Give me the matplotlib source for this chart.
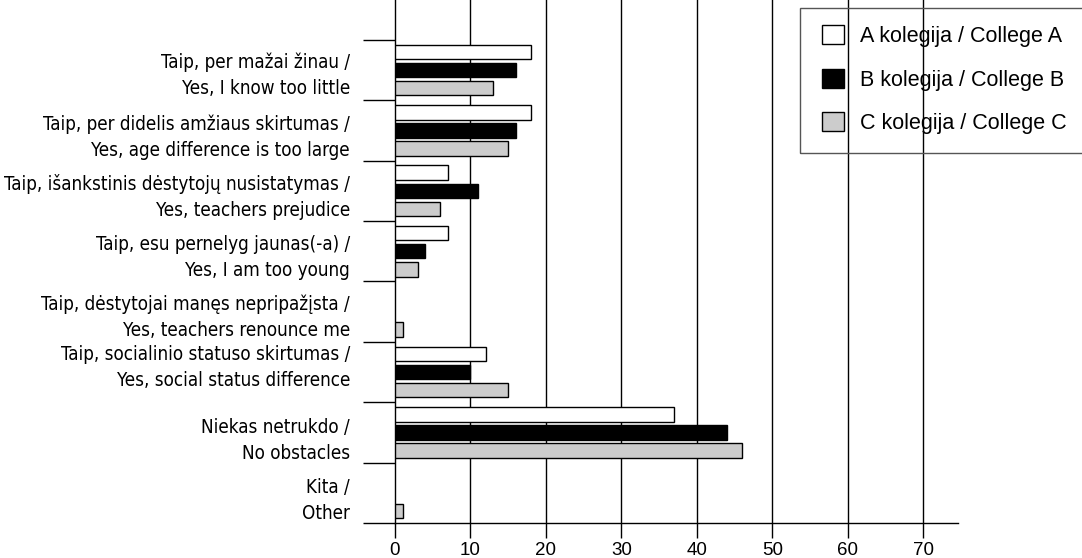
import numpy as np
import matplotlib
matplotlib.use("Agg")
import matplotlib.pyplot as plt
import matplotlib.patches as mpatches
import matplotlib.transforms as mtransforms
from matplotlib import font_manager as fm

# ---------------------------------------------------------------------
# Data
# ---------------------------------------------------------------------
categories = [
    "Taip, per mažai žinau /\nYes, I know too little",
    "Taip, per didelis amžiaus skirtumas /\nYes, age difference is too large",
    "Taip, išankstinis dėstytojų nusistatymas /\nYes, teachers prejudice",
    "Taip, esu pernelyg jaunas(-a) /\nYes, I am too young",
    "Taip, dėstytojai manęs nepripažįsta /\nYes, teachers renounce me",
    "Taip, socialinio statuso skirtumas /\nYes, social status difference",
    "Niekas netrukdo /\nNo obstacles",
    "Kita /\nOther",
]
college_a = [18, 18, 7, 7, 0, 12, 37, 0]
college_b = [16, 16, 11, 4, 0, 10, 44, 0]
college_c = [13, 15, 6, 3, 1, 15, 46, 1]
series_labels = ["A kolegija / College A", "B kolegija / College B", "C kolegija / College C"]
x_ticks = [0, 10, 20, 30, 40, 50, 60, 70]

colors = ["white", "black", "#cccccc"]
main_font = ["Liberation Sans", "DejaVu Sans"]

# ---------------------------------------------------------------------
# Condensed font for category labels, if one is installed
# ---------------------------------------------------------------------
names = {f.name for f in fm.fontManager.ttflist}
condensed = {f.name for f in fm.fontManager.ttflist
             if str(f.stretch) in ("condensed", "semi-condensed", "extra-condensed")}
if "Liberation Sans Narrow" in names:
    label_prop = dict(family=["Liberation Sans Narrow", "DejaVu Sans"], fontsize=14)
elif "DejaVu Sans" in condensed:
    label_prop = dict(family=["DejaVu Sans"], fontstretch="condensed", fontsize=13.5)
else:
    label_prop = dict(family=main_font, fontsize=12.5)

# ---------------------------------------------------------------------
# Figure
# ---------------------------------------------------------------------
W, H = 1082, 558
fig = plt.figure(figsize=(W / 100, H / 100), dpi=100)
ax = fig.add_axes([395 / W, (H - 523) / H, (958 - 395) / W, 523 / H])

y = np.arange(len(categories))
offsets = [-0.3, 0.0, 0.3]
bar_h = 0.24
for vals, off, col, lab in zip([college_a, college_b, college_c], offsets, colors, series_labels):
    vals = np.asarray(vals, dtype=float)
    keep = vals > 0
    ax.barh(y[keep] + off, vals[keep], height=bar_h, color=col,
            edgecolor="black", linewidth=1.0, zorder=3, label=lab)

ax.set_xlim(0, 74.6)
ax.set_ylim(7.5, -1.16)

# grid
for xv in x_ticks[1:]:
    ax.axvline(xv, color="black", linewidth=1.0, zorder=1)

ax.spines["top"].set_visible(False)
ax.spines["right"].set_visible(False)
ax.spines["left"].set_linewidth(1.0)
ax.spines["bottom"].set_linewidth(1.0)

ax.set_xticks(x_ticks)
ax.set_xticklabels([str(v) for v in x_ticks], family=main_font, fontsize=13.5)
ax.tick_params(axis="x", length=11, width=1.0, direction="out", pad=3)

# category boundaries as major ticks, labels as minor ticks
ax.set_yticks(np.arange(len(categories) + 1) - 0.5)
ax.set_yticklabels([])
ax.tick_params(axis="y", which="major", length=23, width=1.0, direction="out")
ax.set_yticks(y, minor=True)
ax.set_yticklabels(categories, minor=True, linespacing=1.47, **label_prop)
ax.tick_params(axis="y", which="minor", length=0, pad=32.4)
label_shift = [0, 1, 1, 1, 0, -10, 3, 2]
for lbl, dy in zip(ax.get_yticklabels(minor=True), label_shift):
    lbl.set_transform(lbl.get_transform() +
                      mtransforms.ScaledTranslation(0, -dy / 100, fig.dpi_scale_trans))

# legend with box running off the right edge
fig.patches.append(mpatches.Rectangle((800 / W, 1 - 153 / H), 300 / W, 145 / H,
                                      transform=fig.transFigure, fill=False,
                                      edgecolor="#555555", linewidth=1.0))
fig.legend(loc="upper left", bbox_to_anchor=(822 / W, 1 - 25 / H), frameon=False,
           prop={"family": main_font, "size": 15.5}, handlelength=1.0,
           handleheight=1.0, handletextpad=0.78, labelspacing=1.0,
           borderpad=0, borderaxespad=0)

fig.savefig("out.png", dpi=100)
